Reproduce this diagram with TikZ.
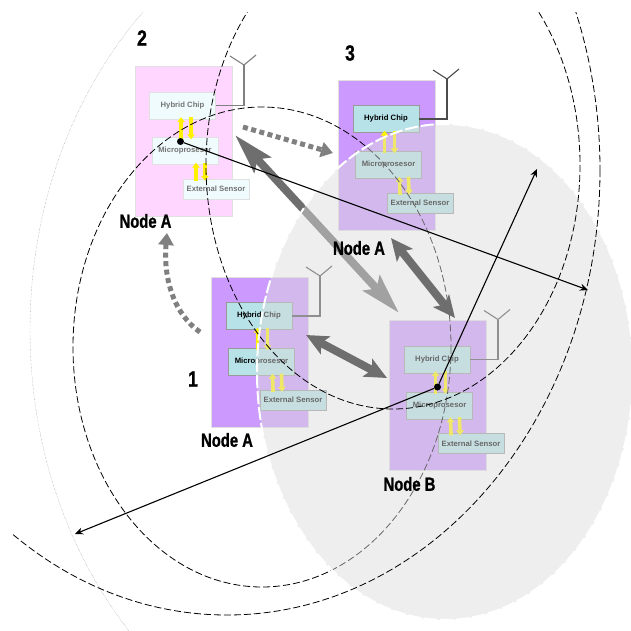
\documentclass[tikz,border=0pt]{standalone}
\usepackage{fontspec}
\setmainfont{Liberation Sans}
\newfontfamily\tagfont[BoldFeatures={FakeBold=1.2}]{Liberation Sans}
\usetikzlibrary{arrows.meta}
\definecolor{violet1}{HTML}{CC99FF}
\definecolor{pink1}{HTML}{FFD6FF}
\definecolor{teal1}{HTML}{B6E2E8}
\definecolor{pale1}{HTML}{F0FBFD}
\definecolor{zone}{HTML}{DBDBDB}
\begin{document}
\begin{tikzpicture}[x=1pt,y=-1pt,
        panel/.style={rectangle,draw=black!12,fill=violet1,minimum width=97pt,minimum height=150pt,inner sep=0pt},
        panelpink/.style={panel,fill=pink1},
        chip/.style={rectangle,draw=black!40,fill=teal1,minimum width=66pt,minimum height=27pt,inner sep=0pt,font=\bfseries\fontsize{7.7}{8}\selectfont},
        sensor/.style={chip,minimum height=20pt},
        chippale/.style={draw=black!12,fill=pale1,text=black!55},
        tag/.style={font=\tagfont\bfseries\fontsize{19}{19}\selectfont,xscale=.78,inner sep=0pt},
        num/.style={font=\tagfont\bfseries\fontsize{22}{22}\selectfont,xscale=.8,inner sep=0pt},
        yup/.style={draw=yellow,line width=3.6pt,shorten <=-2pt,shorten >=-2pt,-{Triangle[length=5pt,width=7.5pt]}},
        aerial/.style={draw=black!70,line width=1.1pt},
        fat/.style={draw=black!57,line width=8pt,{Stealth[length=22pt,width=20pt,inset=5pt]}-{Stealth[length=22pt,width=20pt,inset=5pt]}},
        longfat/.style={fat,{Stealth[length=40pt,width=22pt,inset=7pt]}-{Stealth[length=40pt,width=22pt,inset=7pt]}},
        moving/.style={draw=black!50,line width=5pt,dash pattern=on 5pt off 3.5pt,-{Triangle[length=12pt,width=15pt]}},
        reach/.style={draw=black,line width=.8pt,dash pattern=on 7pt off 3pt},
        ray/.style={draw=black,line width=1.1pt,-{Stealth[length=8pt,width=7pt]}},
        dot/.style={circle,fill=black,minimum size=7pt,inner sep=0pt}]
    \useasboundingbox (0,0) rectangle (631,631);

    % node 2
    \node[panelpink] at (184,141) (p2) {};
    \node[chip,chippale] at ([shift={(-1.5,-35.5)}]p2.center) (h2) {Hybrid Chip};
    \node[chip,chippale] at ([shift={(1,10)}]p2.center) (m2) {Microprosesor};
    \node[sensor,chippale] at ([shift={(32,48)}]p2.center) (e2) {External Sensor};
    \coordinate (t2) at ([shift={(60,-76)}]p2.center);
    \draw[yup] ([xshift=-4pt]m2.north) -- ([xshift=-1.5pt]h2.south);
    \draw[yup] ([xshift=8.5pt]h2.south) -- ([xshift=6pt]m2.north);
    \draw[yup] ([xshift=-20pt]e2.north) -- ([xshift=11pt]m2.south);
    \draw[yup] ([xshift=20pt]m2.south) -- ([xshift=-11pt]e2.north);
    \draw[aerial,draw=black!50] (h2.east) -| (t2);
    \draw[aerial,draw=black!50] (t2) -- +(-14,-9) (t2) -- +(12,-10);

    % node 3
    \node[panel] at (387,155) (p3) {};
    \node[chip] at ([shift={(-1,-36)}]p3.center) (h3) {Hybrid Chip};
    \node[chip] at ([shift={(1.5,10)}]p3.center) (m3) {Microprosesor};
    \node[sensor] at ([shift={(33,48)}]p3.center) (e3) {External Sensor};
    \coordinate (t3) at ([shift={(60,-76)}]p3.center);
    \draw[yup] ([xshift=-4pt]m3.north) -- ([xshift=-1.5pt]h3.south);
    \draw[yup] ([xshift=8.5pt]h3.south) -- ([xshift=6pt]m3.north);
    \draw[yup] ([xshift=-20pt]e3.north) -- ([xshift=11pt]m3.south);
    \draw[yup] ([xshift=20pt]m3.south) -- ([xshift=-11pt]e3.north);
    \draw[aerial] (h3.east) -| (t3);
    \draw[aerial] (t3) -- +(-14,-9) (t3) -- +(12,-10);

    % node 1
    \node[panel] at (260,352) (p1) {};
    \node[chip] at ([shift={(-1,-36)}]p1.center) (h1) {Hybrid Chip};
    \node[chip] at ([shift={(1.5,10)}]p1.center) (m1) {Microprosesor};
    \node[sensor] at ([shift={(33,48)}]p1.center) (e1) {External Sensor};
    \coordinate (t1) at ([shift={(60,-76)}]p1.center);
    \draw[yup] ([xshift=-4pt]m1.north) -- ([xshift=-1.5pt]h1.south);
    \draw[yup] ([xshift=8.5pt]h1.south) -- ([xshift=6pt]m1.north);
    \draw[yup] ([xshift=-20pt]e1.north) -- ([xshift=11pt]m1.south);
    \draw[yup] ([xshift=20pt]m1.south) -- ([xshift=-11pt]e1.north);
    \draw[aerial] (h1.east) -| (t1);
    \draw[aerial] (t1) -- +(-14,-9) (t1) -- +(12,-10);

    % node B
    \node[panel] at (438,395.5) (pB) {};
    \node[chip] at ([shift={(-1,-36)}]pB.center) (hB) {Hybrid Chip};
    \node[chip] at ([shift={(1.5,10)}]pB.center) (mB) {Microprosesor};
    \node[sensor] at ([shift={(33,48)}]pB.center) (eB) {External Sensor};
    \coordinate (tB) at ([shift={(60,-76)}]pB.center);
    \draw[yup] ([xshift=-4pt]mB.north) -- ([xshift=-1.5pt]hB.south);
    \draw[yup] ([xshift=8.5pt]hB.south) -- ([xshift=6pt]mB.north);
    \draw[yup] ([xshift=-20pt]eB.north) -- ([xshift=11pt]mB.south);
    \draw[yup] ([xshift=20pt]mB.south) -- ([xshift=-11pt]eB.north);
    \draw[aerial] (hB.east) -| (tB);
    \draw[aerial] (tB) -- +(-14,-9) (tB) -- +(12,-10);

    % free ends
    \coordinate (a2) at (235,135);
    \coordinate (b2) at (399,313);
    \coordinate (a3) at (391,238);
    \coordinate (b3) at (455,318);
    \coordinate (a1) at (306,335);
    \coordinate (b1) at (387,378);
    \coordinate (s2) at (243,127);
    \coordinate (s3) at (333,153);
    \coordinate (s1) at (200,332);
    \coordinate (s4) at (167,233);
    \coordinate (endA) at (588,290);
    \coordinate (endB) at (75,534);
    \coordinate (endC) at (537,169);

    % these two go under the shaded zone
    \begin{scope}
        \clip (12,13) rectangle (631,631);
        \draw[draw=black!45,line width=.4pt,densely dotted] (400,330) ellipse [x radius=370,y radius=442];
        \draw[reach] (262,347) ellipse [x radius=189,y radius=240];
    \end{scope}
    \draw[longfat] (a2) -- (b2);

    \draw[draw=white,line width=2pt,dash pattern=on 13pt off 3pt,fill=zone,fill opacity=.47] (445,372) ellipse [x radius=188,y radius=248];

    \begin{scope}
        \clip (12,13) rectangle (631,631);
        \draw[reach] (393,165) ellipse [x radius=187,y radius=244];
        \draw[reach] (227,170) ellipse [x radius=373,y radius=445];
    \end{scope}

    \draw[fat] (a3) -- (b3);
    \draw[fat] (a1) -- (b1);
    \draw[moving] (s2) -- (s3);
    \draw[moving] (s1) .. controls (175,315) and (163,280) .. (s4);

    \node[dot] at (180.5,141.5) (dotA) {};
    \node[dot] at (437.5,387) (dotB) {};
    \draw[ray] (dotA) -- (endA);
    \draw[ray] (dotB) -- (endB);
    \draw[ray] (dotB) -- (endC);

    \node[tag] at (145.5,221) (tagA2) {Node A};
    \node[tag] at (359,248) (tagA3) {Node A};
    \node[tag] at (227,440) (tagA1) {Node A};
    \node[tag] at (409.5,484) (tagB) {Node B};
    \node[num] at (142,38) (num2) {2};
    \node[num] at (350,53) (num3) {3};
    \node[num] at (193,379) (num1) {1};
\end{tikzpicture}
\end{document}
